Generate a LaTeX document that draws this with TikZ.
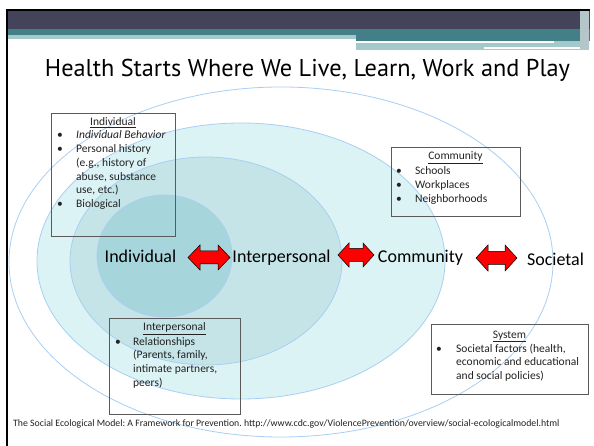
\documentclass[tikz,border=0pt]{standalone}
\usepackage{fontspec}
\usepackage{graphicx}
\setmainfont{Carlito}
\newfontfamily\titlefont{PT Sans}
\usetikzlibrary{calc}
\frenchspacing
\definecolor{hdrdark}{HTML}{434459}
\definecolor{hdrteal}{HTML}{437F86}
\definecolor{hdrpale}{HTML}{A3C9CB}
\definecolor{hdrcol}{HTML}{B4C6CA}
\definecolor{ringline}{HTML}{A8CFF3}
\definecolor{fillind}{HTML}{A6D5DB}
\definecolor{fillint}{HTML}{C5E4E7}
\definecolor{fillcom}{HTML}{DCF3F5}
\definecolor{boxline}{HTML}{5A5A5A}
\definecolor{txt}{HTML}{222222}
\tikzset{
  ring/.style={draw=ringline, line width=0.8pt},
  infobox/.style={draw=boxline, line width=0.8pt, inner sep=0pt, outer sep=0pt},
  boxhead/.style={anchor=base, inner sep=0pt, text=txt, font=\fontsize{11.5}{13.7}\selectfont},
  boxlist/.style={anchor=base west, inner sep=0pt, text=txt, font=\fontsize{11.5}{13.7}\selectfont},
  ringlabel/.style={anchor=base, inner sep=0pt, text=black, font=\fontsize{18}{20}\selectfont},
  redarrow/.style={draw=black, line width=0.5pt, fill=red, line join=miter}
}
% #1 centre, #2 half length, #3 half head width, #4 half shaft width, #5 head length
\newcommand{\dblarrow}[5]{%
  \draw[redarrow] ($(#1)+(-#2,0)$) -- ++(#5,-#3) -- ++(0,#3-#4) -- ++({2*#2-2*#5},0)
    -- ++(0,#4-#3) -- ++(#5,#3) -- ++(-#5,#3) -- ++(0,#4-#3) -- ++({-2*#2+2*#5},0)
    -- ++(0,#3-#4) -- cycle;}
\begin{document}
\begin{tikzpicture}[x=1pt,y=-1pt]
\useasboundingbox (0,0) rectangle (594,446);
\fill[white] (0,0) rectangle (594,446);
% header
\fill[black] (6,9) rectangle (590,11);
\fill[hdrdark] (8,11) rectangle (590,29);
\fill[hdrteal] (8,29) rectangle (590,35);
\fill[hdrpale] (8,35) rectangle (356,39);
\fill[hdrteal] (356,35) rectangle (590,41);
\fill[hdrpale] (356,41) rectangle (589,50);
\fill[white] (356,41) rectangle (554,43);
\fill[white] (484,47.5) rectangle (587,49);
\fill[hdrcol] (580,11) rectangle (589,50);
\fill[black] (6,9) rectangle (8,446);
% title
\node[anchor=base, inner sep=0pt] (title) at (307.5,77)
  {\resizebox{525pt}{!}{\titlefont Health Starts Where We Live, Learn, Work and Play}};
% rings
\draw[ring] (281,262) ellipse [x radius=272, y radius=175];
\filldraw[ring, fill=fillcom] (241,261) ellipse [x radius=204, y radius=138];
\filldraw[ring, fill=fillint] (206,261) ellipse [x radius=136, y radius=104];
\filldraw[ring, fill=fillind] (164.5,256) ellipse [x radius=67.5, y radius=61];
% boxes
\node[infobox, minimum width=124pt, minimum height=123pt] (indbox) at (113,174.5) {};
\node[boxhead] (indhead) at (113,126) {\underline{Individual}};
\node[boxlist] (indlist) at (57,139) {\begin{tabular}[t]{@{}p{19pt}@{}l@{}}
\textbullet & \textit{Individual Behavior}\\
\textbullet & Personal history\\
 & (e.g., history of\\
 & abuse, substance\\
 & use, etc.)\\
\textbullet & Biological
\end{tabular}};

\node[infobox, minimum width=129pt, minimum height=69pt] (combox) at (455.5,181.5) {};
\node[boxhead] (comhead) at (455.5,159.5) {\underline{Community}};
\node[boxlist] (comlist) at (396,175) {\begin{tabular}[t]{@{}p{19pt}@{}l@{}}
\textbullet & Schools\\
\textbullet & Workplaces\\
\textbullet & Neighborhoods
\end{tabular}};

\node[infobox, minimum width=131pt, minimum height=96pt] (intbox) at (174.5,366) {};
\node[boxhead] (inthead) at (174.5,330.5) {\underline{Interpersonal}};
\node[boxlist] (intlist) at (115,345) {\begin{tabular}[t]{@{}p{18pt}@{}l@{}}
\textbullet & Relationships\\
 & (Parents, family,\\
 & intimate partners,\\
 & peers)
\end{tabular}};

\node[infobox, minimum width=157pt, minimum height=70pt] (sysbox) at (509.5,359) {};
\node[boxhead] (syshead) at (509.5,338) {\underline{System}};
\node[boxlist] (syslist) at (436,352) {\begin{tabular}[t]{@{}p{20pt}@{}l@{}}
\textbullet & Societal factors (health,\\
 & economic and educational\\
 & and social policies)
\end{tabular}};
% ring labels
\node[ringlabel] (lind) at (140.5,263) {Individual};
\node[ringlabel] (lint) at (281.5,263) {Interpersonal};
\node[ringlabel] (lcom) at (420.5,262.5) {Community};
\node[ringlabel] (lsoc) at (555.5,265.5) {Societal};
% arrows between the ring labels
\coordinate (arr1) at (209,257.5);
\coordinate (arr2) at (356,255);
\coordinate (arr3) at (496.5,258);
\dblarrow{arr1}{21}{12.5}{6.5}{12}
\dblarrow{arr2}{18}{12}{6.5}{11}
\dblarrow{arr3}{20.5}{13}{6.5}{12}
% footer
\node[anchor=base west, inner sep=0pt, text=txt, font=\fontsize{9.8}{11}\selectfont] (footer) at (13,426)
  {The Social Ecological Model: A Framework for Prevention. http://www.cdc.gov/ViolencePrevention/overview/social-ecologicalmodel.html};
\end{tikzpicture}
\end{document}
